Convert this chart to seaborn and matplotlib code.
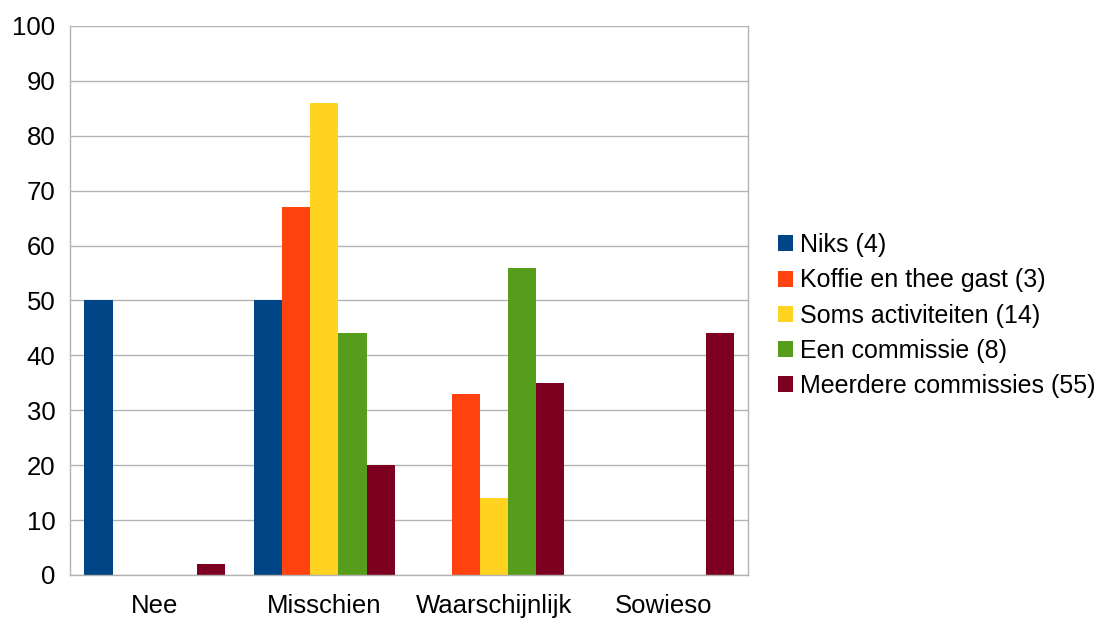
import matplotlib
matplotlib.use("Agg")
import matplotlib.pyplot as plt
import pandas as pd
import seaborn as sns

categories = ["Nee", "Misschien", "Waarschijnlijk", "Sowieso"]
series = ["Niks (4)", "Koffie en thee gast (3)", "Soms activiteiten (14)",
          "Een commissie (8)", "Meerdere commissies (55)"]
niks = [50, 50, 0, 0]
koffie = [0, 67, 33, 0]
soms = [0, 86, 14, 0]
een = [0, 44, 56, 0]
meerdere = [2, 20, 35, 44]
colors = ["#004586", "#ff420e", "#ffd320", "#579d1c", "#7e0021"]

rows = []
for name, vals in zip(series, [niks, koffie, soms, een, meerdere]):
    for cat, v in zip(categories, vals):
        rows.append({"cat": cat, "serie": name, "val": v})
df = pd.DataFrame(rows)

sns.set_style("white")
plt.rcParams["font.family"] = ["Liberation Sans", "DejaVu Sans"]

fig = plt.figure(figsize=(11.06, 6.19), dpi=100)
ax = fig.add_axes([0.0633, 0.0711, 0.6133, 0.887])

sns.barplot(data=df, x="cat", y="val", hue="serie", order=categories,
            hue_order=series, palette=colors, width=0.83, gap=0,
            saturation=1, linewidth=0, ax=ax, legend=True)

grid = "#b3b3b3"
fs = 18.5
ax.set_ylim(0, 100)
ax.set_xlim(-0.5, 3.5)
ax.set_yticks(range(0, 101, 10))
ax.yaxis.grid(True, color=grid, linewidth=1)
ax.set_axisbelow(True)
ax.set_xticks(range(4))
ax.set_xticklabels(categories)
ax.set_xticks([-0.5, 0.5, 1.5, 2.5, 3.5], minor=True)
ax.tick_params(axis="x", which="major", length=0, pad=14, labelsize=fs, labelcolor="black")
ax.tick_params(axis="x", which="minor", length=7, color=grid, width=1, direction="out")
ax.tick_params(axis="y", length=7, color=grid, width=1, direction="out", labelsize=fs,
               pad=3.5, labelcolor="black")
ax.set_xlabel("")
ax.set_ylabel("")
for s in ["left", "bottom", "right"]:
    ax.spines[s].set_color(grid)
    ax.spines[s].set_linewidth(1)
ax.spines["top"].set_visible(False)

handles, labels = ax.get_legend_handles_labels()
ax.get_legend().remove()
fig.legend(handles, labels, loc="center left", bbox_to_anchor=(0.683, 0.49),
           frameon=False, fontsize=18, handlelength=0.6, handleheight=0.6,
           handletextpad=0.3, labelspacing=0.45, labelcolor="black")

fig.savefig("out.png", dpi=100)
